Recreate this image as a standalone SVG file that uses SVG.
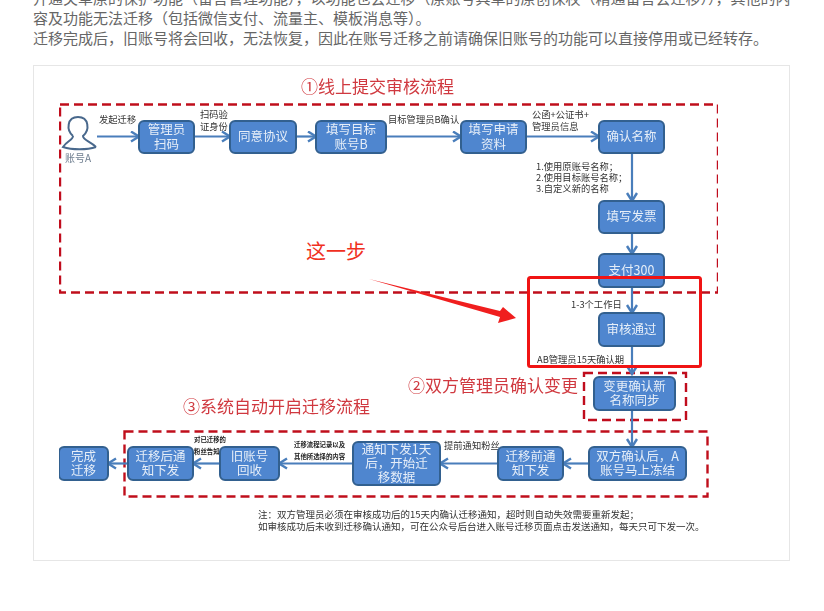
<svg xmlns="http://www.w3.org/2000/svg" width="824" height="611" viewBox="0 0 824 611">
<defs>
<marker id="ah" markerUnits="userSpaceOnUse" markerWidth="14" markerHeight="14" refX="10" refY="6" orient="auto"><path d="M2 1 L10 6 L2 11" fill="none" stroke="#4a7ebb" stroke-width="2.4"/></marker>
<filter id="soft" x="0" y="0" width="1" height="1"><feGaussianBlur stdDeviation="0.35"/></filter>
</defs>
<style>
text{font-family:"Noto Sans CJK SC","Liberation Sans",sans-serif}
.n{fill:#4f86cf;stroke:#33608f;stroke-width:2}
.nt{fill:#e6eef8;font-size:12.500px;text-anchor:middle}
.l{fill:#333;font-size:9.300px}
.s{fill:#222;font-size:6.400px;font-weight:700}
.p{fill:#666;font-size:15px}
.h{fill:#d0393f;font-size:17px}
.d{fill:none;stroke:#c00f1e;stroke-width:2.400;stroke-dasharray:9 5}
.c{fill:none;stroke:#4a7ebb;stroke-width:2.200;marker-end:url(#ah)}
</style>
<rect width="824" height="611" fill="#fff"/>
<g id="intro">
<text class="p" x="33" y="4">开通关草原的保护功能（留言管理功能），以功能也会迁移（原账号具草的原创保权（精通留言会迁移）），其他的内</text>
<text class="p" x="33" y="24">容及功能无法迁移（包括微信支付、流量主、模板消息等）。</text>
<text class="p" x="33" y="44">迁移完成后，旧账号将会回收，无法恢复，因此在账号迁移之前请确保旧账号的功能可以直接停用或已经转存。</text>
</g>
<rect x="33.500" y="65.500" width="756" height="495" fill="#fff" stroke="#e6e6e6"/>
<g id="figure" filter="url(#soft)">
<g id="regions">
<rect class="d" x="60" y="104.500" width="658" height="188"/>
<rect class="d" x="124.500" y="431.500" width="583" height="65"/>
<rect class="d" x="584" y="373" width="102" height="47"/>
<text class="h" x="301" y="93">①线上提交审核流程</text>
<text class="h" x="408" y="392">②双方管理员确认变更</text>
<text class="h" x="183" y="413">③系统自动开启迁移流程</text>
</g>
<g id="connectors">
<path class="c" d="M97 136.500H139"/>
<path class="c" d="M194 136.500H230"/>
<path class="c" d="M296 136.500H316"/>
<path class="c" d="M386 136.500H461"/>
<path class="c" d="M526 136.500H599"/>
<path class="c" d="M632 153V201"/>
<path class="c" d="M632 233V254"/>
<path class="c" d="M632 287V313"/>
<path class="c" d="M632 346V374"/>
<path class="c" d="M632 410V447"/>
<path class="c" d="M589 463.500H563"/>
<path class="c" d="M498 463.500H440"/>
<path class="c" d="M353 463.500H279"/>
<path class="c" d="M220 463.500H193"/>
<path class="c" d="M128 463.500H108"/>
<text class="l" x="99" y="123">发起迁移</text>
<text class="l" x="200" y="118">扫码验</text>
<text class="l" x="200" y="130">证身份</text>
<text class="l" x="388" y="123">目标管理员B确认</text>
<text class="l" x="532" y="118">公函+公证书+</text>
<text class="l" x="532" y="130">管理员信息</text>
<text class="l" x="536" y="170">1.使用原账号名称；</text>
<text class="l" x="536" y="181">2.使用目标账号名称；</text>
<text class="l" x="536" y="192">3.自定义新的名称</text>
<text class="l" x="571" y="308">1-3个工作日</text>
<text class="l" x="537" y="363">AB管理员15天确认期</text>
<text class="l" x="444" y="449">提前通知粉丝</text>
<text class="s" x="294" y="447">迁移流程记录以及</text>
<text class="s" x="294" y="459">其他所选择的内容</text>
<text class="s" x="194" y="442">对已迁移的</text>
<text class="s" x="194" y="454">粉丝告知</text>
</g>
<g id="account-a">
<path d="M73 136 C66 130 67 117 78 117 C89 117 90 130 83 136 C83 140 90 141 96 147 M73 136 C73 140 67 141 63 147 C72 150 87 150 96 147" fill="#fff" stroke="#48688c" stroke-width="2"/>
<text x="65" y="162" fill="#6f7f90" font-size="10">账号A</text>
</g>
<g id="n1"><rect class="n" x="139" y="121" width="55" height="32" rx="5"/><text class="nt" x="166.500" y="134">管理员</text><text class="nt" x="166.500" y="149">扫码</text></g>
<g id="n2"><rect class="n" x="230" y="121" width="66" height="32" rx="5"/><text class="nt" x="263" y="141">同意协议</text></g>
<g id="n3"><rect class="n" x="316" y="121" width="70" height="32" rx="5"/><text class="nt" x="351" y="134">填写目标</text><text class="nt" x="351" y="149">账号B</text></g>
<g id="n4"><rect class="n" x="461" y="121" width="65" height="32" rx="5"/><text class="nt" x="493.500" y="134">填写申请</text><text class="nt" x="493.500" y="149">资料</text></g>
<g id="n5"><rect class="n" x="599" y="121" width="65" height="32" rx="5"/><text class="nt" x="631.500" y="141">确认名称</text></g>
<g id="n6"><rect class="n" x="599" y="201" width="65" height="32" rx="5"/><text class="nt" x="631.500" y="221">填写发票</text></g>
<g id="n7"><rect class="n" x="599" y="254" width="65" height="33" rx="5"/><text class="nt" x="631.500" y="275">支付300</text></g>
<g id="n8"><rect class="n" x="599" y="313" width="65" height="33" rx="5"/><text class="nt" x="631.500" y="334">审核通过</text></g>
<g id="n9"><rect class="n" x="594" y="377" width="81" height="33" rx="5"/><text class="nt" x="634.500" y="391">变更确认新</text><text class="nt" x="634.500" y="405">名称同步</text></g>
<g id="n10"><rect class="n" x="589" y="447" width="97" height="33" rx="5"/><text class="nt" x="637.500" y="461">双方确认后，A</text><text class="nt" x="637.500" y="475">账号马上冻结</text></g>
<g id="n11"><rect class="n" x="498" y="447" width="65" height="33" rx="5"/><text class="nt" x="530.500" y="461">迁移前通</text><text class="nt" x="530.500" y="475">知下发</text></g>
<g id="n12"><rect class="n" x="353" y="442" width="87" height="43" rx="5"/><text class="nt" x="396.500" y="454">通知下发1天</text><text class="nt" x="396.500" y="468">后，开始迁</text><text class="nt" x="396.500" y="482">移数据</text></g>
<g id="n13"><rect class="n" x="220" y="447" width="59" height="33" rx="5"/><text class="nt" x="249.500" y="461">旧账号</text><text class="nt" x="249.500" y="475">回收</text></g>
<g id="n14"><rect class="n" x="128" y="447" width="65" height="33" rx="5"/><text class="nt" x="160.500" y="461">迁移后通</text><text class="nt" x="160.500" y="475">知下发</text></g>
<g id="n15"><rect class="n" x="59" y="447" width="49" height="33" rx="5"/><text class="nt" x="83.500" y="461">完成</text><text class="nt" x="83.500" y="475">迁移</text></g>
<g id="note">
<text x="258" y="518" fill="#333" font-size="9.500">注：双方管理员必须在审核成功后的15天内确认迁移通知，超时则自动失效需要重新发起；</text>
<text x="258" y="530" fill="#333" font-size="9.500">如审核成功后未收到迁移确认通知，可在公众号后台进入账号迁移页面点击发送通知，每天只可下发一次。</text>
</g>
</g>
<g id="annotation">
<rect x="528.500" y="277.500" width="172" height="89" rx="2" fill="none" stroke="#f01414" stroke-width="3"/>
<polygon points="369,279 500,311 503,307 516,318 498,323 500,317" fill="#f01e1e"/>
<text x="306" y="259" fill="#f0301e" font-size="20">这一步</text>
</g>
</svg>
